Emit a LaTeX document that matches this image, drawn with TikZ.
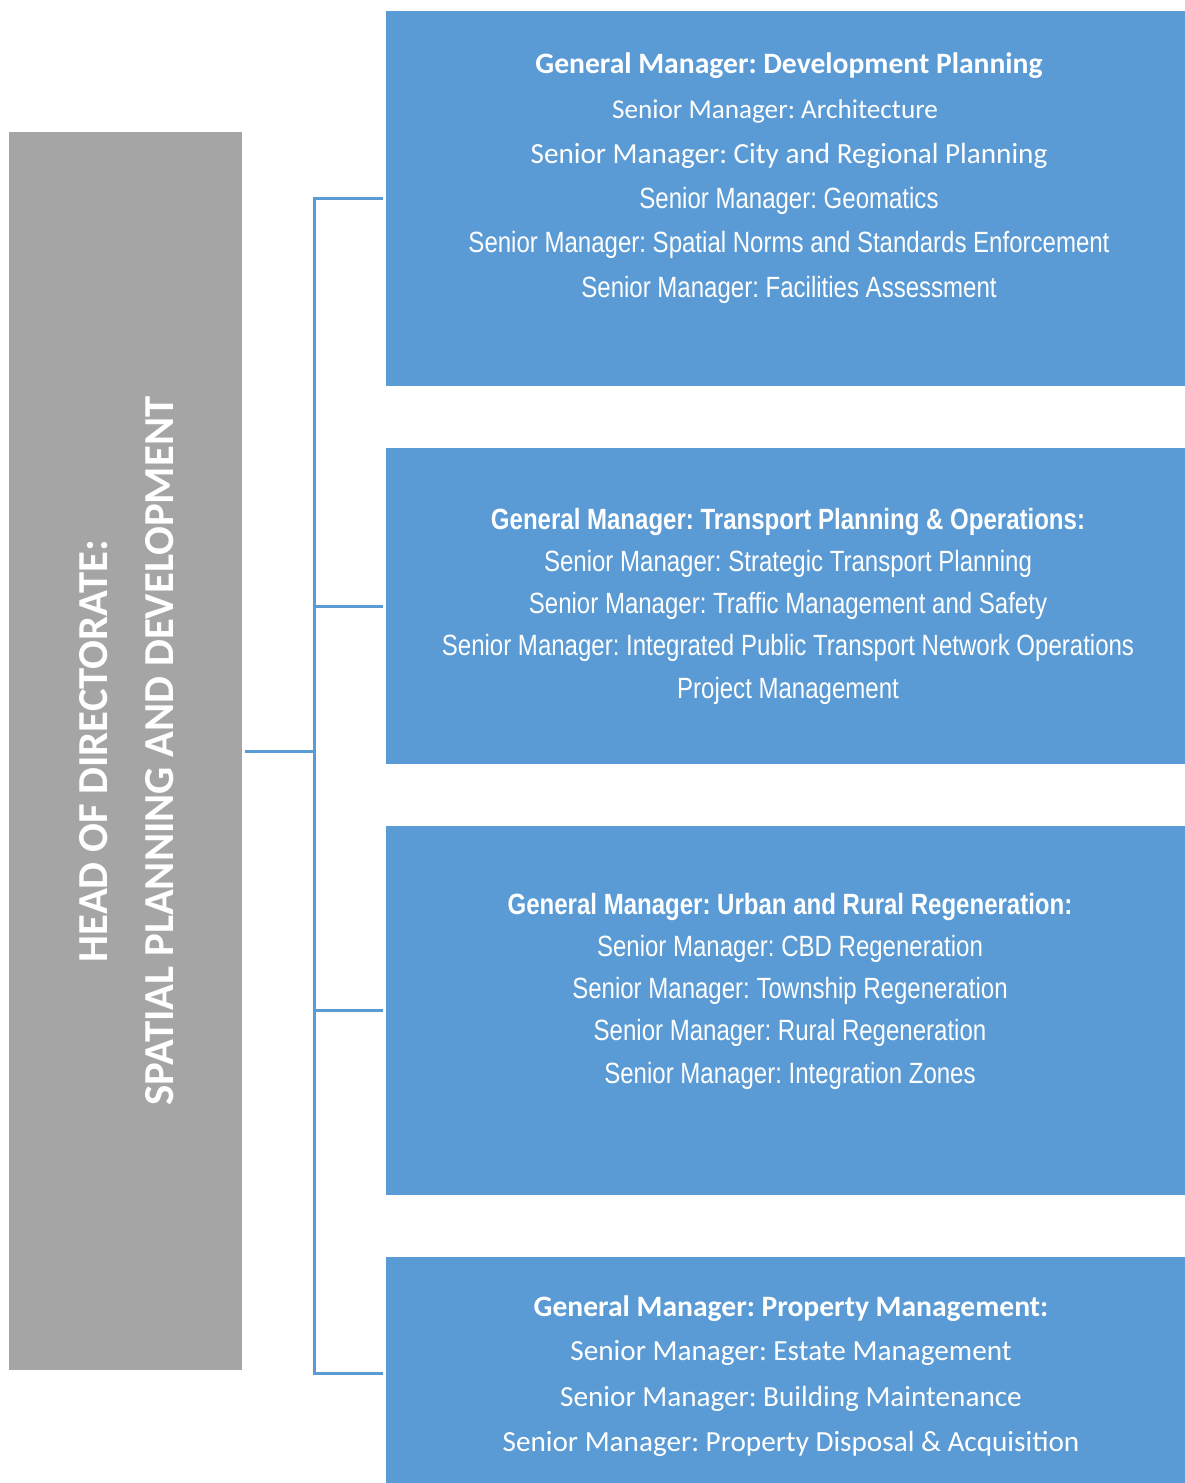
\documentclass[tikz,border=0pt]{standalone}
\usepackage{fontspec}
\newfontfamily\calfont{Carlito}
\newfontfamily\narfont{Liberation Sans}[FakeStretch=0.82]
\definecolor{boxblue}{HTML}{5B9BD5}
\definecolor{headgray}{HTML}{A5A5A5}
\begin{document}
\frenchspacing
\begin{tikzpicture}[x=1pt,y=-1pt,
  headbox/.style={rectangle, fill=headgray, inner sep=0pt, outer sep=0pt, minimum width=233pt, minimum height=1238pt},
  bluebox/.style={rectangle, fill=boxblue, inner sep=0pt, outer sep=0pt, minimum width=800pt},
  conn/.style={draw=boxblue, line width=3pt},
  txt/.style={text=white, anchor=base, inner sep=0pt},
  cal/.style={txt, font=\frenchspacing\calfont\fontsize{29.2}{34}\selectfont},
  calsm/.style={txt, font=\frenchspacing\calfont\fontsize{27.2}{32}\selectfont},
  calb/.style={txt, font=\frenchspacing\calfont\bfseries\fontsize{29.6}{34}\selectfont},
  nar/.style={txt, font=\frenchspacing\narfont\fontsize{29.3}{34}\selectfont},
  narb/.style={txt, font=\frenchspacing\narfont\bfseries\fontsize{29.3}{34}\selectfont},
  headtxt/.style={text=white, anchor=base, inner sep=0pt, rotate=90, font=\frenchspacing\calfont\bfseries\fontsize{42.7}{50}\selectfont}
]
\useasboundingbox (0,0) rectangle (1184,1483);
\fill[white] (0,0) rectangle (1184,1483);

% head box
\node[headbox] (head) at (125.5,751) {};
\node[headtxt] (h1) at (107,751) {HEAD OF DIRECTORATE:};
\node[headtxt] (h2) at (173,751) {SPATIAL PLANNING AND DEVELOPMENT};

% blue boxes
\node[bluebox, minimum height=375pt] (b1) at (786,198.5) {};
\node[bluebox, minimum height=316pt] (b2) at (786,606) {};
\node[bluebox, minimum height=369pt] (b3) at (786,1010.5) {};
\node[bluebox, minimum height=232pt] (b4) at (786,1373) {};

% connectors
\coordinate (sx) at (314,751);
\draw[conn, shorten <=3pt] (head.east) -- (head.east -| sx);
\draw[conn, line cap=rect] (b1.west -| sx) -- (b4.west -| sx);
\draw[conn, shorten >=3pt] (b1.west -| sx) -- (b1.west);
\draw[conn, shorten >=3pt] (b2.west -| sx) -- (b2.west);
\draw[conn, shorten >=3pt] (b3.west -| sx) -- (b3.west);
\draw[conn, shorten >=3pt] (b4.west -| sx) -- (b4.west);

% box 1 text
\node[calb]  (t11) at (789,73.5) {General Manager: Development Planning};
\node[calsm] (t12) at (775,118.5) {Senior Manager: Architecture};
\node[cal]   (t13) at (789,163.5) {Senior Manager: City and Regional Planning};
\node[nar]   (t14) at (789,208.5) {Senior Manager: Geomatics};
\node[nar]   (t15) at (789,252.5) {Senior Manager: Spatial Norms and Standards Enforcement};
\node[nar]   (t16) at (789,297.5) {Senior Manager: Facilities Assessment};

% box 2 text
\node[narb] (t21) at (788,529) {General Manager: Transport Planning \& Operations:};
\node[nar]  (t22) at (788,571) {Senior Manager: Strategic Transport Planning};
\node[nar]  (t23) at (788,613) {Senior Manager: Traffic Management and Safety};
\node[nar]  (t24) at (788,655) {Senior Manager: Integrated Public Transport Network Operations};
\node[nar]  (t25) at (788,698) {Project Management};

% box 3 text
\node[narb] (t31) at (790,914) {General Manager: Urban and Rural Regeneration:};
\node[nar]  (t32) at (790,956) {Senior Manager: CBD Regeneration};
\node[nar]  (t33) at (790,998) {Senior Manager: Township Regeneration};
\node[nar]  (t34) at (790,1040) {Senior Manager: Rural Regeneration};
\node[nar]  (t35) at (790,1083) {Senior Manager: Integration Zones};

% box 4 text
\node[calb] (t41) at (791,1316.5) {General Manager: Property Management:};
\node[cal]  (t42) at (791,1360.5) {Senior Manager: Estate Management};
\node[cal]  (t43) at (791,1406) {Senior Manager: Building Maintenance};
\node[cal]  (t44) at (791,1451) {Senior Manager: Property Disposal \& Acquisition};
\end{tikzpicture}
\end{document}
